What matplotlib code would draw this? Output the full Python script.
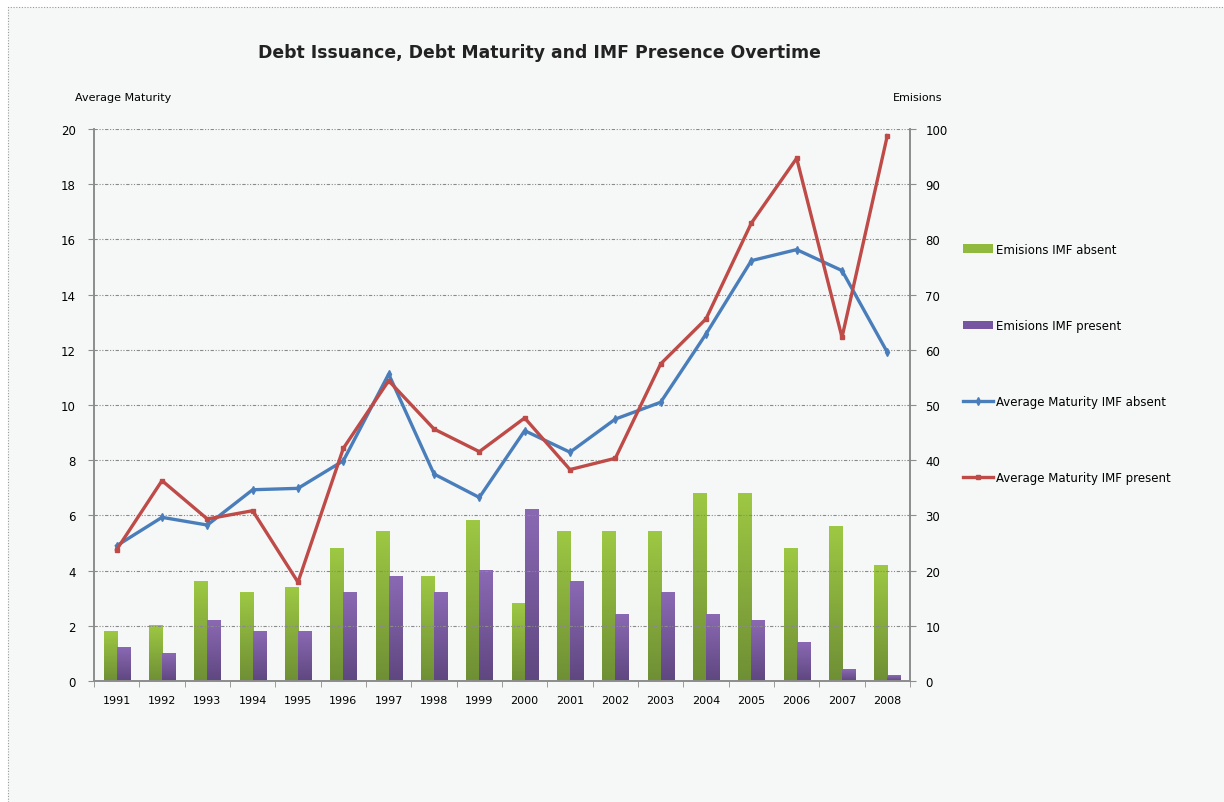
import numpy as np
import matplotlib.pyplot as plt
from matplotlib.patches import Rectangle, Patch
from matplotlib.lines import Line2D
from matplotlib.colors import LinearSegmentedColormap

# ------------------------------
# Data
# ------------------------------
years = [str(y) for y in range(1991, 2009)]
emis_absent = [9, 10, 18, 16, 17, 24, 27, 19, 29, 14, 27, 27, 27, 34, 34, 24, 28, 21]
emis_present = [6, 5, 11, 9, 9, 16, 19, 16, 20, 31, 18, 12, 16, 12, 11, 7, 2, 1]
mat_absent = [4.9, 5.93, 5.65, 6.93, 6.98, 7.98, 11.12, 7.5, 6.65, 9.07, 8.29, 9.49,
              10.1, 12.57, 15.23, 15.63, 14.87, 11.91]
mat_present = [4.76, 7.26, 5.87, 6.17, 3.58, 8.43, 10.88, 9.13, 8.31, 9.53, 7.66, 8.07,
               11.49, 13.12, 16.59, 18.94, 12.45, 19.76]

GREEN_TOP, GREEN_BOT = "#9dc843", "#6f8f35"
PURPLE_TOP, PURPLE_BOT = "#8a69b3", "#5f4780"
BLUE = "#4a7ebb"
RED = "#be4b48"
GRAY = "#8c8c8c"

plt.rcParams["font.family"] = ["DejaVu Sans"]

fig = plt.figure(figsize=(12.24, 8.03), dpi=100)
fig.patch.set_facecolor("white")
# chart area background; dotted border only on the left and top
bx, by = 8 / 1224, 1 - 8 / 803
fig.patches.append(Rectangle((bx, -0.02), 1.1, by + 0.02, transform=fig.transFigure,
                             facecolor="#f6f8f8", edgecolor="none", zorder=-10))
fig.lines.append(Line2D([bx, bx, 1], [0, by, by], transform=fig.transFigure,
                        color="#9a9a9a", linestyle=(0, (1, 1.5)), lw=0.8))

ax = fig.add_axes([94 / 1224, 1 - 682 / 803, (910 - 94) / 1224, (682 - 130) / 803])
ax.set_facecolor("none")
ax2 = ax.twinx()

x = np.arange(len(years))
w = 0.29


def grad_bar(axis, xc, h, width, ctop, cbot):
    grad = np.linspace(0, 1, 64).reshape(-1, 1)
    cmap = LinearSegmentedColormap.from_list("g", [cbot, ctop])
    axis.imshow(grad, cmap=cmap, origin="lower", aspect="auto",
                extent=[xc - width / 2, xc + width / 2, 0, h], zorder=2)


for i in range(len(years)):
    grad_bar(ax2, x[i] - w / 2, emis_absent[i], w, GREEN_TOP, GREEN_BOT)
    grad_bar(ax2, x[i] + w / 2, emis_present[i], w, PURPLE_TOP, PURPLE_BOT)

ax2.set_xlim(-0.5, len(years) - 0.5)
ax2.set_ylim(0, 100)
ax2.set_yticks(range(0, 101, 10))

# lines on left axis, drawn above bars
ax.set_zorder(ax2.get_zorder() + 1)
ax.plot(x, mat_absent, color=BLUE, lw=2.4, marker="d", ms=4, zorder=5)
ax.plot(x, mat_present, color=RED, lw=2.4, marker="s", ms=3.5, zorder=6)
ax.set_xlim(-0.5, len(years) - 0.5)
ax.set_ylim(0, 20)
ax.set_yticks(range(0, 21, 2))
ax.yaxis.grid(True, color="#8a8a8a", linestyle=(0, (3, 1.5, 1, 1.5, 1, 1.5)), lw=0.8)
ax.set_axisbelow(True)

ax.set_xticks(x)
ax.set_xticklabels(years)
ax.set_xticks(np.arange(-0.5, len(years), 1), minor=True)
ax.tick_params(axis="x", which="major", length=0, labelsize=8, pad=10)
ax.tick_params(axis="x", which="minor", length=4, color=GRAY, direction="out")
ax.tick_params(axis="y", length=4, color=GRAY, labelsize=8.5, pad=9)
ax2.tick_params(axis="y", length=4, color=GRAY, labelsize=8.5, pad=7)

for a in (ax, ax2):
    for s in a.spines.values():
        s.set_color(GRAY)
        s.set_linewidth(1.2)
    a.spines["top"].set_visible(False)

fig.text(539 / 1224, 1 - 53 / 803, "Debt Issuance, Debt Maturity and IMF Presence Overtime",
         ha="center", va="center", fontsize=12.4, fontweight="bold", color="#222222")
fig.text(75 / 1224, 1 - 98 / 803, "Average Maturity", ha="left", va="center", fontsize=8)
fig.text(893 / 1224, 1 - 98 / 803, "Emisions", ha="left", va="center", fontsize=8)

handles = [Patch(facecolor="#8fba3e", edgecolor="none"),
           Patch(facecolor="#7656a0", edgecolor="none"),
           Line2D([], [], color=BLUE, lw=2.4, marker="d", ms=4),
           Line2D([], [], color=RED, lw=2.4, marker="s", ms=3.5)]
labels = ["Emisions IMF absent", "Emisions IMF present",
          "Average Maturity IMF absent", "Average Maturity IMF present"]
fig.legend(handles, labels, loc="upper left", bbox_to_anchor=(958 / 1224, 1 - 239 / 803),
           frameon=False, fontsize=8.5, labelspacing=5.35, handlelength=2.6,
           handletextpad=0.2, borderaxespad=0)

fig.savefig("out.png", dpi=100, facecolor=fig.get_facecolor())
